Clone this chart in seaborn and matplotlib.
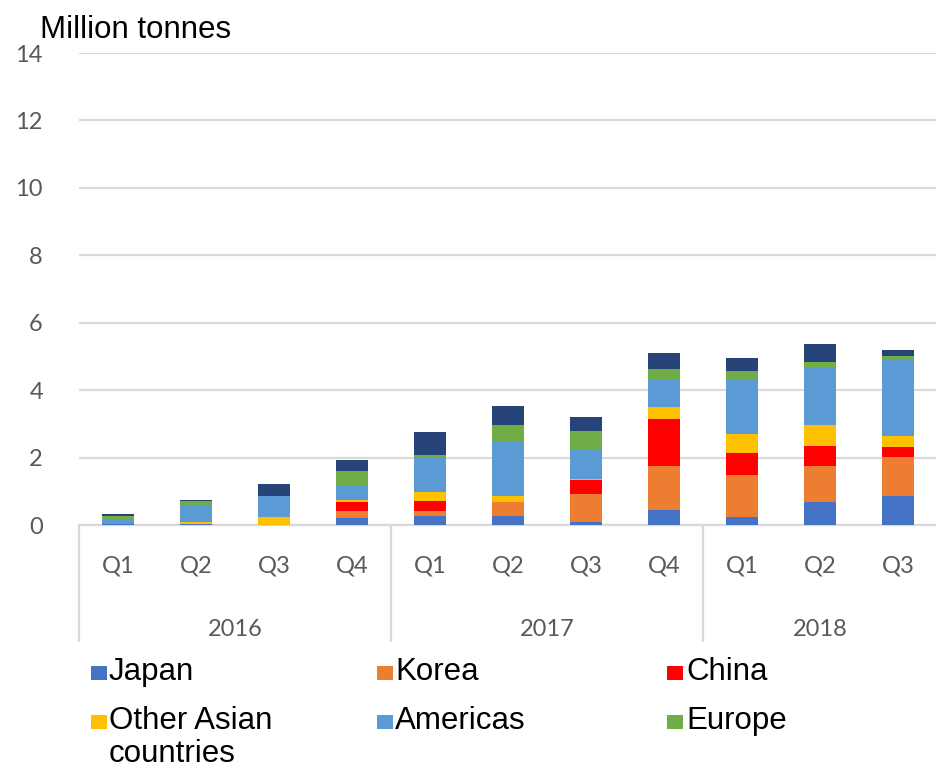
import matplotlib
matplotlib.use("Agg")
import matplotlib.pyplot as plt
from matplotlib.patches import Rectangle
import numpy as np
import pandas as pd
import seaborn as sns

# Quarterly values, million tonnes
quarters = ["Q1", "Q2", "Q3", "Q4", "Q1", "Q2", "Q3", "Q4", "Q1", "Q2", "Q3"]
years = ["2016", "2017", "2018"]
year_spans = [(0, 3), (4, 7), (8, 10)]

japan = [0.02, 0.02, 0.0, 0.22, 0.27, 0.28, 0.08, 0.44, 0.23, 0.69, 0.86]
korea = [0.0, 0.0, 0.0, 0.20, 0.15, 0.41, 0.83, 1.30, 1.25, 1.06, 1.16]
china = [0.0, 0.0, 0.0, 0.27, 0.28, 0.0, 0.42, 1.41, 0.67, 0.59, 0.28]
other_asia = [0.0, 0.08, 0.25, 0.05, 0.28, 0.17, 0.02, 0.36, 0.54, 0.64, 0.34]
americas = [0.17, 0.50, 0.61, 0.44, 1.00, 1.63, 0.89, 0.79, 1.62, 1.71, 2.27]
europe = [0.08, 0.10, 0.0, 0.41, 0.10, 0.49, 0.54, 0.33, 0.26, 0.15, 0.10]
others = [0.07, 0.05, 0.35, 0.33, 0.69, 0.54, 0.41, 0.46, 0.39, 0.54, 0.18]

series_names = ["Japan", "Korea", "China", "Other Asian\ncountries", "Americas", "Europe", "Other"]
series_values = [japan, korea, china, other_asia, americas, europe, others]
series_colors = ["#4472C4", "#ED7D31", "#FF0000", "#FFC000", "#5B9BD5", "#70AD47", "#264478"]
legend_count = 6

sns.set_theme(style="white")
plt.rcParams["font.family"] = ["Liberation Sans", "DejaVu Sans"]

W, H = 937, 769
fig = plt.figure(figsize=(W / 100, H / 100), dpi=100)
ax = fig.add_axes([79 / W, 244 / H, 858 / W, 472 / H])

positions = [f"p{i}" for i in range(len(quarters))]
values = np.array(series_values)
cumulative = np.cumsum(values, axis=0)

# Stacked bars: draw cumulative totals from the top layer down
for k in range(len(series_names) - 1, -1, -1):
    df = pd.DataFrame({"pos": positions, "total": cumulative[k]})
    sns.barplot(data=df, x="pos", y="total", order=positions, color=series_colors[k],
                saturation=1, width=0.4, ax=ax, linewidth=0, zorder=3)

ax.set_ylim(0, 14)
ax.set_xlim(-0.5, len(quarters) - 0.5)
ax.set_yticks(np.arange(0, 15, 2))
ax.set_yticklabels([str(v) for v in range(0, 15, 2)])
ax.yaxis.grid(True, color="#d9d9d9", linewidth=1.6, zorder=0)
ax.xaxis.grid(False)
ax.set_axisbelow(True)
for side in ["top", "right", "left"]:
    ax.spines[side].set_visible(False)
ax.spines["bottom"].set_color("#d9d9d9")
ax.spines["bottom"].set_linewidth(1.6)
ax.set_xlabel("")
ax.set_ylabel("")

tick_font = ["Lato", "DejaVu Sans"]
ax.set_xticks(range(len(quarters)))
ax.set_xticklabels(quarters)
ax.tick_params(axis="x", length=0, pad=22, labelsize=17, labelcolor="#595959")
ax.tick_params(axis="y", length=0, pad=26, labelsize=17, labelcolor="#595959")
for lbl in ax.get_xticklabels() + ax.get_yticklabels():
    lbl.set_family(tick_font)

trans = ax.get_xaxis_transform()
for name, (a, b) in zip(years, year_spans):
    ax.text((a + b) / 2, -0.222, name, transform=trans, ha="center", va="center",
            fontsize=17, color="#595959", family=tick_font)
for xb in [-0.5, 3.5, 7.5]:
    ax.plot([xb, xb], [0, -0.245], transform=trans, color="#d9d9d9", linewidth=1.6,
            clip_on=False)

fig.text(40 / W, 1 - 38 / H, "Million tonnes", fontsize=22.5, color="black",
         ha="left", va="baseline")

# Legend grid: three columns, two rows
square_x = [91, 377, 667]
text_x = [109, 395, 686]
baseline_y = [680, 729]
second_line_gap = 33
sq_w, sq_h = 16, 14
for i in range(legend_count):
    r, c = divmod(i, 3)
    base = baseline_y[r]
    fig.patches.append(Rectangle((square_x[c] / W, 1 - base / H), sq_w / W, sq_h / H,
                                 transform=fig.transFigure, facecolor=series_colors[i],
                                 edgecolor="none"))
    for j, line in enumerate(series_names[i].split("\n")):
        fig.text(text_x[c] / W, 1 - (base + j * second_line_gap) / H, line,
                 fontsize=22.5, color="black", ha="left", va="baseline")

fig.savefig("out.png", dpi=100)
